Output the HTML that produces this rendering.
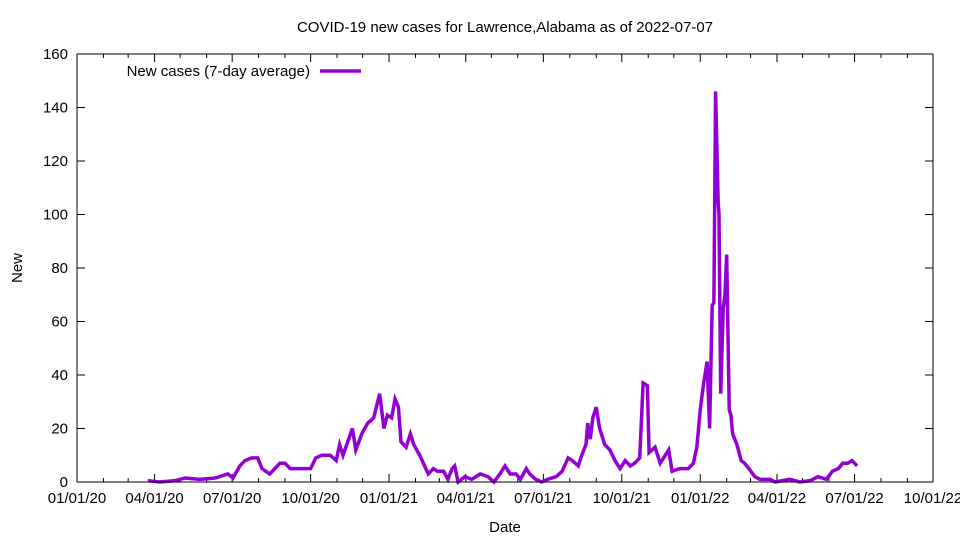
<!DOCTYPE html>
<html><head><meta charset="utf-8"><style>
body{margin:0;background:#fff}
svg{display:block;font-family:"Liberation Sans",sans-serif}
</style></head><body>
<svg id="chart" width="960" height="540">
<text x="505" y="32" text-anchor="middle" font-size="15">COVID-19 new cases for Lawrence,Alabama as of 2022-07-07</text>
<text x="505" y="532" text-anchor="middle" font-size="15">Date</text>
<text x="22" y="268" text-anchor="middle" font-size="15" transform="rotate(-90 22 268)">New</text>
<g id="axes"></g>
<g id="series"></g>
<g>
<text x="310" y="76" text-anchor="end" font-size="15">New cases (7-day average)</text>
<line x1="320" y1="71" x2="361" y2="71" stroke="#9400d3" stroke-width="3.5"/>
</g>
<rect x="77" y="54" width="856" height="428" fill="none" stroke="#000" stroke-width="1"/>
</svg>
<script>
const days=[83,97,115,127,144,162,177,183,191,197,205,212,217,226,238,244,250,262,274,280,287,297,304,308,312,323,327,334,341,348,355,360,364,369,373,377,380,386,391,395,402,412,418,423,430,435,440,443,447,455,463,473,482,489,496,502,508,515,520,527,531,538,545,552,562,569,576,581,588,592,597,599,602,605,609,613,619,625,631,637,643,649,654,660,664,669,671,678,684,690,694,698,707,717,723,727,731,735,739,742,745,747,749,752,753,755,758,760,762,765,767,769,774,779,783,788,795,801,813,819,836,848,860,869,879,886,893,898,904,909,915];
const values=[0.5,0,0.5,1.5,1,1.5,3,1.5,6,8,9,9,5,3,7,7,5,5,5,9,10,10,8,14,10,20,12,18,22,24,33,20,25,24,31,28,15,13,18,14,10,3,5,4,4,1,5,6,0,2,1,3,2,0,3,6,3,3,1,5,3,1,0,1,2,4,9,8,6,10,14,22,16,24,28,20,14,12,8,5,8,6,7,9,37,36,11,13,7,10,12,4,5,5,7,13,27,37,45,20,66,67,146,105,100,33,65,70,85,27,25,18,14,8,7,5,2,1,1,0,1,0,0.5,2,1,4,5,7,7,8,6];
const yTicks=[0,20,40,60,80,100,120,140,160];
const xTickLabels=["01/01/20","04/01/20","07/01/20","10/01/20","01/01/21","04/01/21","07/01/21","10/01/21","01/01/22","04/01/22","07/01/22","10/01/22"];
const xTickDays=[0,91,182,274,366,456,547,639,731,821,912,1004];
const X0=77,X1=933,Y0=482,Y1=54,DMAX=1004,VMAX=160;
const sx=d=>X0+(X1-X0)*d/DMAX;
const sy=v=>Y0-(Y0-Y1)*v/VMAX;
const NS="http://www.w3.org/2000/svg";
const axes=document.getElementById('axes');
function mk(t,a){const e=document.createElementNS(NS,t);for(const k in a)e.setAttribute(k,a[k]);return e;}
yTicks.forEach(v=>{
  const y=sy(v);
  const l=mk('path',{d:`M${X0} ${y}h8M${X1} ${y}h-8`,stroke:'#000'});
  
  
  axes.appendChild(l);
  const t=mk('text',{x:68,y:y+5,'text-anchor':'end','font-size':15});
  
  
  t.textContent=v;axes.appendChild(t);
});
for(let m=0;m<=33;m++){
  const yr=2020+Math.floor(m/12),mo=m%12;
  const d=(Date.UTC(yr,mo,1)-Date.UTC(2020,0,1))/864e5;
  const x=sx(d);const len=(mo%3===0)?8:4;
  const l=mk('path',{d:`M${x} ${Y0}v-${len}M${x} ${Y1}v${len}`,stroke:'#000'});
  
  
  axes.appendChild(l);
}
xTickDays.forEach((d,i)=>{
  const t=mk('text',{x:sx(d),y:503,'text-anchor':'middle','font-size':15});
  
  
  t.textContent=xTickLabels[i];axes.appendChild(t);
});
const p=mk('polyline',{points:days.map((d,i)=>sx(d)+','+sy(values[i])).join(' '),fill:'none',stroke:'#9400d3','stroke-width':3.5,'stroke-linejoin':'miter'});


document.getElementById('series').appendChild(p);
</script>
</body></html>
